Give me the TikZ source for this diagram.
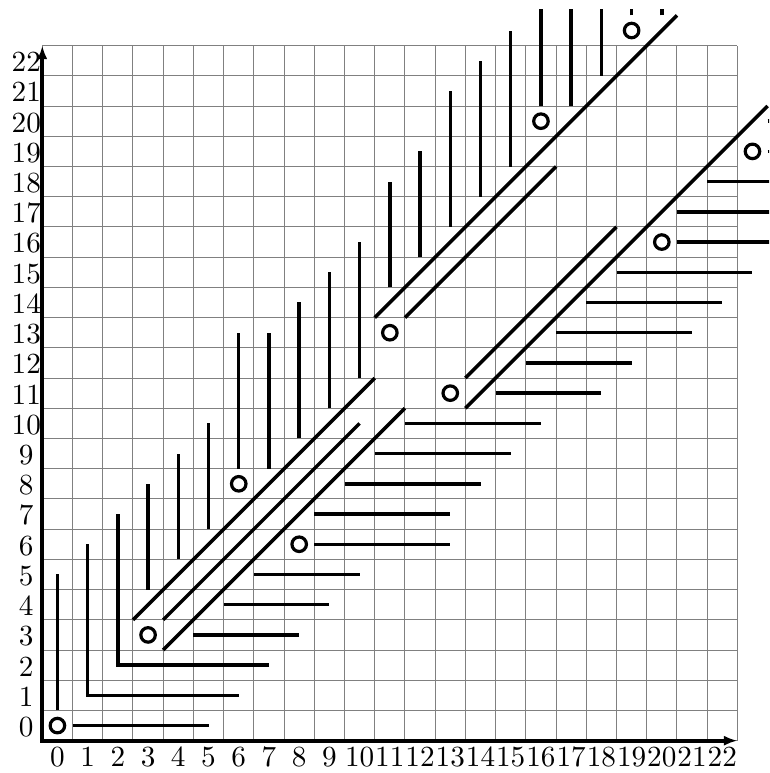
\documentclass[tikz,border=0pt]{standalone}
\usepackage{tikz}
\usetikzlibrary{arrows.meta}

\begin{document}
\begin{tikzpicture}[x=1cm, y=1cm,
  >={Latex[length=4.5mm, width=3.4mm]},
  seg/.style={line width=3.3pt},
  ax/.style={line width=3.8pt},
  ring/.style={circle, draw, line width=3pt, minimum size=4.8mm, inner sep=0pt},
  lbl/.style={anchor=base, inner sep=0pt, scale=2.75}]
  % frame
  \useasboundingbox (-1.9,-1.569) rectangle (23.548,24.01);
  \clip (-1.9,-1.569) rectangle (23.548,23.70);
  % grid and axes
  \draw[gray, line width=0.9pt, shift={(-0.5,-0.5)}] (0,0) grid (23,23);
  \coordinate (orig) at (-0.5,-0.5);
  \coordinate (xend) at (22.5,-0.5);
  \coordinate (yend) at (-0.5,22.5);
  \draw[ax, <->] (xend) -- (orig) -- (yend);
  \foreach \i in {0,...,22} {
    \node[lbl] (xl\i) at (\i,-1.34) {\i};
    \node[lbl] (yl\i) at (-1.03,\i-0.36) {\i};
  }

  % corners
  \foreach \k in {1,2}
    \draw[seg] (\k,\k+5) -- (\k,\k) -- (\k+5,\k);
  % columns above, rows below (mirrored)
  \foreach \k/\a/\b in {0/0.5/5, 3/4.5/8, 4/5.5/9, 5/6.5/10, 6/8.5/13, 7/8.5/13,
      8/9.5/14, 9/10.5/15, 10/11.5/16, 11/14.5/18, 12/15.5/19, 13/16.5/21,
      14/17.5/22, 15/18.5/23, 16/20.5/26, 17/20.5/26, 18/21.5/26, 19/23.5/26, 20/23.5/26} {
    \draw[seg] (\k,\a) -- (\k,\b);
    \draw[seg] (\a,\k) -- (\b,\k);
  }
  % diagonal strips
  \foreach \p/\q/\r/\s in {2.5/3.5/10.5/11.5, 3.5/3.5/10/10, 3.5/2.5/11.5/10.5,
      10.5/13.5/20.5/23.5, 11.5/13.5/16.5/18.5, 13.5/11.5/18.5/16.5, 13.5/10.5/23.5/20.5}
    \draw[seg] (\p,\q) -- (\r,\s);
  % marked cells
  \foreach \u/\v [count=\n] in {0/0, 3/3, 6/8, 8/6, 11/13, 13/11, 16/20, 20/16, 19/23, 23/19}
    \node[ring] (r\n) at (\u,\v) {};
\end{tikzpicture}
\end{document}
